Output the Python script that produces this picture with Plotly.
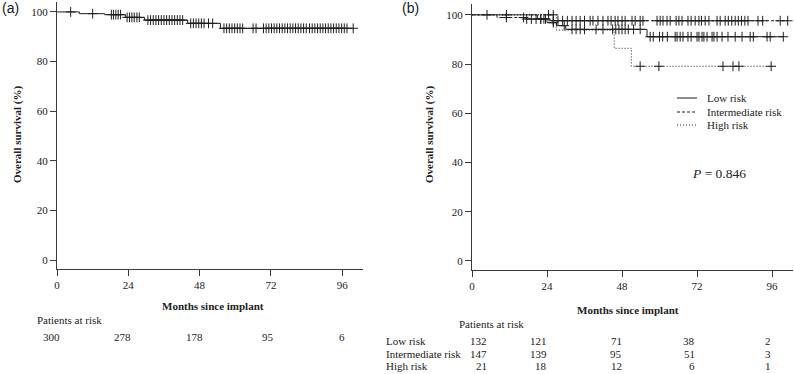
import numpy as np
import plotly.graph_objects as go

W, H = 794, 374

# ---------------- Data ----------------
# Panel (a): overall cohort
a_times = [0, 7.5, 16.0, 23.0, 29.5, 44.0, 55.0]
a_surv = [100, 99.3, 98.9, 97.8, 96.7, 95.4, 93.4]
a_end = 99.7
a_censor = [4.6, 12.0, 18.3, 19.0, 19.8, 20.6, 21.4, 23.6, 24.4, 25.2, 26.0, 26.9, 27.7,
            30.6, 31.5, 32.4, 33.3, 34.2, 35.1, 36.0, 36.9, 37.8, 38.7, 39.6, 40.5, 41.4, 42.3,
            45.0, 45.9, 46.8, 47.7, 48.6, 49.5, 51.0, 52.4,
            56.2, 57.1, 58.0, 58.9, 59.8, 60.7, 61.6, 62.5, 66.0, 67.0,
            69.5, 70.4, 71.3, 72.2, 73.1, 74.0, 74.9, 75.8, 76.7, 77.6, 78.5, 79.4, 80.3,
            81.2, 82.1, 83.0, 83.9, 85.0, 85.9, 86.8, 87.7, 88.6, 89.5, 90.4, 91.3, 92.2,
            93.1, 94.0, 94.9, 95.8, 96.7, 97.6, 99.7]
a_risk = [300, 278, 178, 95, 6]

# Panel (b): by risk group
low_times = [0, 21.0, 24.0, 27.0, 30.0, 56.0]
low_surv = [100, 98.4, 96.8, 95.6, 94.1, 91.1]
low_end = 99.6
low_censor = [4.8, 11.0, 22.0, 23.0, 26.0, 29.5, 32.0, 33.3, 34.6, 36.0, 39.7, 41.9, 45.0,
              46.0, 47.0, 48.0, 49.0, 50.0, 51.7, 53.8, 57.0, 58.0, 60.0, 61.0, 62.5,
              65.0, 65.6, 66.6, 67.5, 69.1, 70.1, 72.0, 72.6, 73.6, 74.2, 75.2, 76.8, 77.4,
              78.4, 80.0, 81.9, 84.2, 86.4, 89.0, 90.0, 94.4, 95.4, 99.6]

int_times = [0, 8.0, 17.0, 25.0]
int_surv = [100, 98.9, 98.3, 97.6]
int_end = 101.0
int_censor = [11.0, 16.5, 17.5, 19.0, 20.5, 22.0, 23.5, 26.0, 27.5, 29.0, 30.5,
              32.0, 33.3, 34.6, 36.0, 37.8, 38.7, 40.3, 41.9, 43.5, 44.5, 45.8, 46.7,
              48.0, 49.0, 51.2, 52.2, 53.8, 54.7, 59.2, 60.2, 61.1, 62.4, 63.4, 65.3,
              66.2, 67.2, 69.1, 70.1, 71.4, 72.6, 73.4, 74.6, 75.8, 78.4, 79.4,
              81.0, 82.0, 83.1, 84.2, 85.2, 86.2, 87.3, 88.3, 91.5, 93.0, 98.6, 101.0]

high_times = [0, 27.0, 45.5, 51.0]
high_surv = [100, 93.8, 86.4, 79.1]
high_end = 97.0
high_censor = [24.5, 26.0, 53.8, 59.8, 80.3, 83.5, 85.4, 95.7]

group_names = ["Low risk", "Intermediate risk", "High risk"]
b_risk_low = [132, 121, 71, 38, 2]
b_risk_int = [147, 139, 95, 51, 3]
b_risk_high = [21, 18, 12, 6, 1]

x_ticks = [0, 24, 48, 72, 96]
y_ticks = [0, 20, 40, 60, 80, 100]

# ---------------- Helpers ----------------
LINE = "#1e1e1e"
AXC = "#3a3a3a"
SERIF = "Liberation Serif, Times New Roman, serif"
SANS = "Liberation Sans, Arial, sans-serif"
DASH = "3px,2px"
DOT = "1px,2px"


def surv_at(times, surv, t):
    idx = np.searchsorted(np.array(times), np.array(t), side="right") - 1
    return list(np.array(surv)[idx])


def px_x(p):
    return p / W


def px_y(p):
    return 1 - p / H


fig = go.Figure()


def add_curve(times, surv, end, censor, dash, xa, ya, name):
    fig.add_trace(go.Scatter(
        x=list(times) + [end], y=list(surv) + [surv[-1]],
        mode="lines", line=dict(shape="hv", color=LINE, width=1, dash=dash),
        xaxis=xa, yaxis=ya, showlegend=False, name=name, hoverinfo="skip"))
    fig.add_trace(go.Scatter(
        x=censor, y=surv_at(times, surv, censor), mode="markers",
        marker=dict(symbol="cross-thin-open", size=7, color=LINE,
                    line=dict(color=LINE, width=1)),
        xaxis=xa, yaxis=ya, showlegend=False, name=name, hoverinfo="skip"))


add_curve(a_times, a_surv, a_end, a_censor, "solid", "x", "y", "Overall")
add_curve(high_times, high_surv, high_end, high_censor, DOT, "x2", "y2", group_names[2])
add_curve(int_times, int_surv, int_end, int_censor, DASH, "x2", "y2", group_names[1])
add_curve(low_times, low_surv, low_end, low_censor, "solid", "x2", "y2", group_names[0])

axis_common = dict(showline=True, linecolor=AXC, linewidth=1, ticks="outside", ticklen=6,
                   tickcolor=AXC, tickwidth=1, showgrid=False, zeroline=False,
                   tickfont=dict(family=SERIF, size=11, color="#222"))

fig.update_layout(
    width=W, height=H, margin=dict(l=0, r=0, t=0, b=0, autoexpand=False),
    paper_bgcolor="white", plot_bgcolor="white", hovermode=False,
    xaxis=dict(domain=[px_x(57), px_x(363)], range=[0, 103], tickvals=x_ticks,
               anchor="y", **axis_common),
    yaxis=dict(domain=[px_y(269), px_y(2)], range=[-3.6, 104.0], tickvals=y_ticks,
               anchor="x", **axis_common),
    xaxis2=dict(domain=[px_x(472), px_x(793)], range=[0, 102.7], tickvals=x_ticks,
                anchor="y2", **axis_common),
    yaxis2=dict(domain=[px_y(270), px_y(4)], range=[-3.66, 104.4], tickvals=y_ticks,
                anchor="x2", **axis_common),
)

ann = []


def text(x, y, s, size=10.5, bold=False, family=SERIF, xanchor="left", angle=0, xref="paper", xshift=0):
    ann.append(dict(x=x, y=y, xref=xref, yref="paper", text=("<b>%s</b>" % s) if bold else s,
                    showarrow=False, xanchor=xanchor, yanchor="middle", textangle=angle,
                    xshift=xshift, font=dict(family=family, size=size, color="#222")))


# panel labels
text(px_x(0), px_y(8), "(a)", size=14, family=SANS)
text(px_x(400), px_y(8), "(b)", size=14, family=SANS)

# axis titles
text(px_x(17), px_y(135), "Overall survival (%)", size=11, bold=True, xanchor="center", angle=-90)
text(px_x(429), px_y(135), "Overall survival (%)", size=11, bold=True, xanchor="center", angle=-90)
text(px_x(213), px_y(306), "Months since implant", size=11, bold=True, xanchor="center")
text(px_x(628), px_y(310), "Months since implant", size=11, bold=True, xanchor="center")

# patients at risk (a)
text(px_x(35), px_y(320), "Patients at risk", size=11)
for t, n in zip(x_ticks, a_risk):
    text(t, px_y(337), str(n), size=11, xanchor="right", xref="x", xshift=5)

# patients at risk (b)
text(px_x(457), px_y(324), "Patients at risk", size=11)
shifts_b = [17, 2, 2, 0, 1]
for row_y, name, vals in zip([341, 354, 366], group_names, [b_risk_low, b_risk_int, b_risk_high]):
    text(px_x(384), px_y(row_y), name, size=11)
    for t, n, sh in zip(x_ticks, vals, shifts_b):
        text(t, px_y(row_y), str(n), size=11, xanchor="right", xref="x2", xshift=sh)

# legend
shapes = []
for row_y, name, dash in zip([98, 112, 125], group_names, ["solid", DASH, DOT]):
    shapes.append(dict(type="line", xref="paper", yref="paper",
                       x0=px_x(677), x1=px_x(697), y0=px_y(row_y), y1=px_y(row_y),
                       line=dict(color=LINE, width=1, dash=dash)))
    text(px_x(705), px_y(row_y), name, size=11)

# P value
text(px_x(690), px_y(173), "<i>P</i> = 0.846", size=13.5)

fig.update_layout(annotations=ann, shapes=shapes)
fig.write_html("out.html", config={"displayModeBar": False},
               post_script="document.body.style.margin='0';document.body.style.padding='0';")
